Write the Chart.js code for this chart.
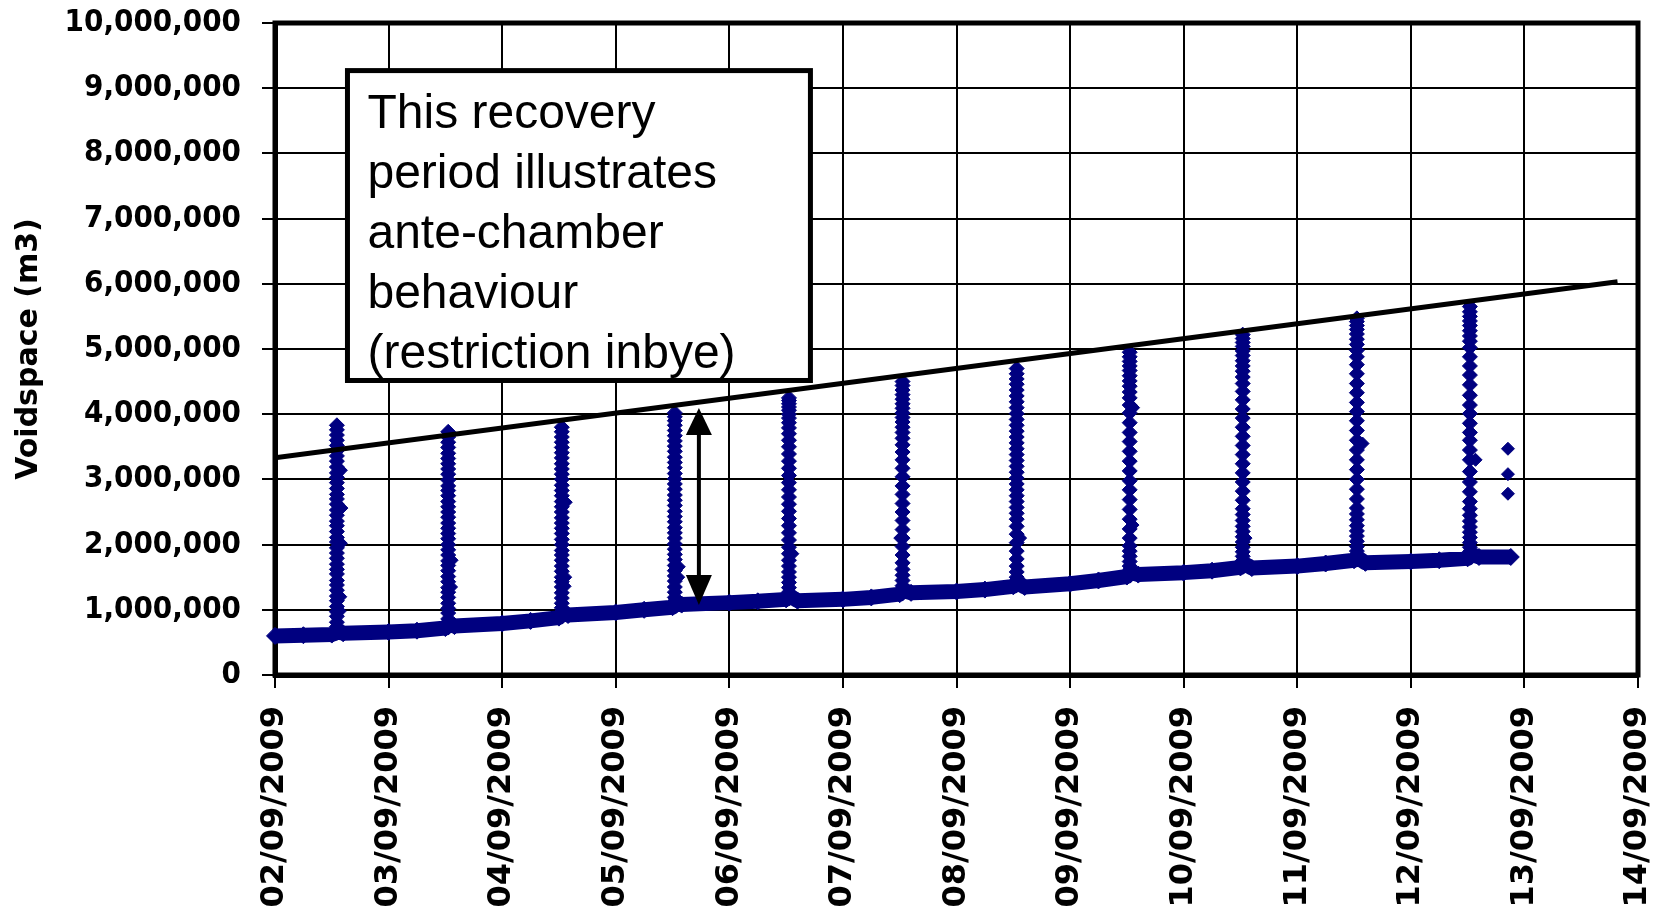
<!DOCTYPE html>
<html>
<head>
<meta charset="utf-8">
<script src="https://cdn.jsdelivr.net/npm/chart.js@4.4.0/dist/chart.umd.min.js"></script>
<style>
  html, body { margin: 0; padding: 0; background: #fff; }
  #wrap { width: 1661px; height: 916px; }
</style>
</head>
<body>
<div id="wrap"><canvas id="myChart" width="1661" height="916"></canvas></div>
<script>
// etiquetas de los ejes
const xTickLabels = ["02/09/2009", "03/09/2009", "04/09/2009", "05/09/2009", "06/09/2009", "07/09/2009",
  "08/09/2009", "09/09/2009", "10/09/2009", "11/09/2009", "12/09/2009", "13/09/2009", "14/09/2009"];
const yTickLabels = ["0", "1,000,000", "2,000,000", "3,000,000", "4,000,000", "5,000,000",
  "6,000,000", "7,000,000", "8,000,000", "9,000,000", "10,000,000"];

// linea base (dia de septiembre, millones de m3)
const baseDays = [2.0, 2.25, 2.5, 2.545, 2.6, 3.0, 3.25, 3.5, 3.525, 3.58, 4.0, 4.25, 4.5, 4.525, 4.58,
  5.0, 5.25, 5.5, 5.52, 5.58, 6.0, 6.25, 6.5, 6.525, 6.6, 7.0, 7.25, 7.5, 7.525, 7.6, 8.0, 8.25, 8.5, 8.53, 8.6,
  9.0, 9.25, 9.5, 9.525, 9.6, 10.0, 10.25, 10.5, 10.52, 10.6, 11.0, 11.25, 11.5, 11.525, 11.6,
  12.0, 12.25, 12.5, 12.52, 12.6, 12.88];
const baseVoid = [0.6, 0.61, 0.62, 0.66, 0.64, 0.66, 0.68, 0.72, 0.78, 0.75, 0.79, 0.83, 0.88, 0.94, 0.92,
  0.96, 1.0, 1.04, 1.1, 1.08, 1.11, 1.13, 1.16, 1.22, 1.14, 1.16, 1.19, 1.24, 1.3, 1.26, 1.28, 1.31, 1.36, 1.42, 1.35,
  1.4, 1.45, 1.51, 1.58, 1.54, 1.57, 1.6, 1.65, 1.72, 1.64, 1.67, 1.71, 1.76, 1.81, 1.72,
  1.74, 1.76, 1.79, 1.86, 1.81, 1.81];

// picos de recuperacion (un dia por pico)
const spikeDays = [2.545, 3.525, 4.525, 5.52, 6.525, 7.525, 8.53, 9.525, 10.52, 11.525, 12.52];
const spike1 = [0.68, 0.74, 0.81, 0.9, 0.97, 1.05, 1.14, 1.21, 1.3, 1.38, 1.45, 1.55, 1.62, 1.7, 1.79, 1.87, 1.95,
  2.04, 2.11, 2.2, 2.29, 2.36, 2.45, 2.53, 2.62, 2.7, 2.77, 2.86, 2.95, 3.03, 3.1, 3.19, 3.28, 3.36, 3.44, 3.52, 3.6,
  3.68, 3.76, 3.83];
const spike2 = [0.8, 0.86, 0.95, 1.02, 1.1, 1.19, 1.27, 1.34, 1.43, 1.51, 1.6, 1.68, 1.75, 1.84, 1.92, 2.0, 2.09,
  2.17, 2.25, 2.33, 2.42, 2.5, 2.58, 2.66, 2.75, 2.83, 2.9, 2.99, 3.08, 3.16, 3.24, 3.32, 3.4, 3.49, 3.57, 3.65, 3.73];
const spike3 = [0.96, 1.03, 1.1, 1.18, 1.26, 1.35, 1.43, 1.5, 1.59, 1.67, 1.76, 1.84, 1.91, 2.0, 2.08, 2.17, 2.25,
  2.33, 2.41, 2.5, 2.58, 2.66, 2.75, 2.83, 2.91, 3.0, 3.08, 3.16, 3.24, 3.33, 3.41, 3.49, 3.57, 3.65, 3.73, 3.8];
const spike4 = [1.12, 1.19, 1.27, 1.35, 1.44, 1.52, 1.6, 1.68, 1.77, 1.85, 1.93, 2.01, 2.1, 2.18, 2.26, 2.35, 2.43,
  2.51, 2.6, 2.68, 2.76, 2.85, 2.93, 3.01, 3.09, 3.18, 3.26, 3.34, 3.43, 3.51, 3.59, 3.67, 3.75, 3.83, 3.9, 3.96, 4.02];
const spike5 = [1.2, 1.27, 1.34, 1.42, 1.5, 1.58, 1.67, 1.76, 1.86, 1.96, 2.07, 2.18, 2.29, 2.4, 2.51, 2.62, 2.73,
  2.84, 2.95, 3.06, 3.17, 3.28, 3.39, 3.5, 3.6, 3.7, 3.79, 3.87, 3.94, 4.0, 4.06, 4.11, 4.16, 4.21, 4.25];
const spike6 = [1.3, 1.37, 1.45, 1.53, 1.62, 1.72, 1.84, 1.97, 2.1, 2.23, 2.37, 2.5, 2.63, 2.77, 2.9, 3.04, 3.17,
  3.3, 3.42, 3.53, 3.63, 3.72, 3.8, 3.88, 3.95, 4.02, 4.09, 4.16, 4.23, 4.3, 4.37, 4.44, 4.5];
const spike7 = [1.42, 1.5, 1.58, 1.67, 1.78, 1.9, 2.03, 2.16, 2.28, 2.39, 2.48, 2.57, 2.66, 2.75, 2.84, 2.93, 3.02,
  3.11, 3.2, 3.29, 3.38, 3.47, 3.56, 3.65, 3.74, 3.83, 3.92, 4.01, 4.1, 4.19, 4.28, 4.37, 4.46, 4.54, 4.62, 4.7];
const spike8 = [1.6, 1.67, 1.74, 1.82, 1.9, 1.98, 2.1, 2.24, 2.39, 2.54, 2.69, 2.84, 2.98, 3.13, 3.28, 3.43, 3.58,
  3.72, 3.87, 4.02, 4.14, 4.25, 4.34, 4.43, 4.51, 4.59, 4.67, 4.74, 4.81, 4.88, 4.95];
const spike9 = [1.75, 1.82, 1.89, 1.96, 2.04, 2.12, 2.2, 2.28, 2.37, 2.46, 2.55, 2.68, 2.82, 2.96, 3.1, 3.24, 3.38,
  3.52, 3.66, 3.8, 3.94, 4.08, 4.22, 4.35, 4.47, 4.57, 4.66, 4.74, 4.82, 4.9, 4.97, 5.04, 5.1, 5.16, 5.22];
const spike10 = [1.84, 1.9, 1.97, 2.05, 2.13, 2.21, 2.29, 2.38, 2.47, 2.56, 2.7, 2.85, 3.0, 3.15, 3.3, 3.45, 3.6,
  3.75, 3.9, 4.04, 4.18, 4.33, 4.47, 4.62, 4.76, 4.88, 4.98, 5.07, 5.15, 5.23, 5.3, 5.36, 5.42, 5.47];
const spike11 = [1.89, 1.96, 2.03, 2.11, 2.19, 2.27, 2.36, 2.45, 2.55, 2.66, 2.81, 2.96, 3.12, 3.3, 3.45, 3.6, 3.72,
  3.86, 4.01, 4.14, 4.29, 4.45, 4.6, 4.74, 4.88, 5.02, 5.12, 5.2, 5.28, 5.36, 5.43, 5.5, 5.57, 5.65];

// puntos sueltos fuera de la columna
const strayDays = [2.58, 2.585, 2.58, 2.575, 2.57, 3.555, 3.55, 4.56, 4.555, 4.55, 5.555, 5.55, 6.555, 7.505,
  8.56, 9.555, 9.55, 10.545, 11.575, 12.57, 12.855, 12.855, 12.855];
const strayVoid = [3.14, 2.56, 2.02, 1.2, 0.98, 1.76, 1.35, 2.65, 1.5, 1.36, 1.66, 1.5, 1.86, 2.1,
  2.1, 4.1, 2.3, 2.1, 3.55, 3.3, 3.47, 3.08, 2.78];

// linea de tendencia
const trendDays = [2.0, 13.82];
const trendVoid = [3.33, 6.03];

// cuadro de texto y flecha
const noteLines = ["This recovery", "period illustrates", "ante-chamber", "behaviour", "(restriction inbye)"];
const noteBox = { left: 2.638, right: 6.714, top: 9.27, bottom: 4.517 };
const arrowDay = 5.732;
const arrowTop = 4.095;
const arrowBottom = 1.074;

const spikes = [spike1, spike2, spike3, spike4, spike5, spike6, spike7, spike8, spike9, spike10, spike11];
const M = 1000000;

function puntos(dias, valores) {
  return dias.map((d, i) => ({ x: d, y: valores[i] * M }));
}

let picos = [];
spikes.forEach((vals, i) => {
  vals.forEach((v) => picos.push({ x: spikeDays[i], y: v * M }));
});

const navy = "#000080";
const narrowBold = "'DejaVu Sans Condensed', 'DejaVu Sans', sans-serif";
const wideBold = "'DejaVu Sans', Verdana, sans-serif";

const extras = {
  id: "extras",
  beforeDatasetsDraw(chart) {
    const { ctx, chartArea: a } = chart;
    ctx.save();
    ctx.strokeStyle = "#000";
    ctx.lineWidth = 5;
    ctx.strokeRect(a.left, a.top, a.right - a.left, a.bottom - a.top);
    ctx.restore();
  },
  afterDatasetsDraw(chart) {
    const { ctx, scales: { x, y } } = chart;
    ctx.save();
    ctx.strokeStyle = "#000";
    ctx.fillStyle = "#000";

    // flecha doble
    const ax = x.getPixelForValue(arrowDay);
    const t = y.getPixelForValue(arrowTop * M);
    const b = y.getPixelForValue(arrowBottom * M);
    ctx.lineWidth = 4;
    ctx.beginPath();
    ctx.moveTo(ax, t + 20);
    ctx.lineTo(ax, b - 20);
    ctx.stroke();
    ctx.beginPath();
    ctx.moveTo(ax, t);
    ctx.lineTo(ax - 13, t + 27);
    ctx.lineTo(ax + 13, t + 27);
    ctx.closePath();
    ctx.fill();
    ctx.beginPath();
    ctx.moveTo(ax, b);
    ctx.lineTo(ax - 13, b - 30);
    ctx.lineTo(ax + 13, b - 30);
    ctx.closePath();
    ctx.fill();

    // cuadro de texto
    const l = x.getPixelForValue(noteBox.left);
    const r = x.getPixelForValue(noteBox.right);
    const bt = y.getPixelForValue(noteBox.top * M);
    const bb = y.getPixelForValue(noteBox.bottom * M);
    ctx.fillStyle = "#fff";
    ctx.fillRect(l, bt, r - l, bb - bt);
    ctx.lineWidth = 5;
    ctx.strokeRect(l, bt, r - l, bb - bt);
    ctx.fillStyle = "#000";
    ctx.font = "48px 'Liberation Sans', Arial, sans-serif";
    ctx.textBaseline = "alphabetic";
    ctx.textAlign = "left";
    noteLines.forEach((linea, i) => {
      ctx.fillText(linea, l + 20, bt + 57 + i * 60);
    });
    ctx.restore();
  }
};

const grafica = document.getElementById("myChart").getContext("2d");

const myChart = new Chart(grafica, {
  type: "scatter",
  data: {
    datasets: [
      {
        label: "Trend",
        data: puntos(trendDays, trendVoid),
        showLine: true,
        borderColor: "#000",
        borderWidth: 5,
        pointRadius: 0
      },
      {
        label: "Voidspace",
        data: picos,
        pointStyle: "rectRot",
        pointRadius: 7.5,
        backgroundColor: navy,
        borderColor: navy,
        borderWidth: 1
      },
      {
        label: "Stray",
        data: puntos(strayDays, strayVoid),
        pointStyle: "rectRot",
        pointRadius: 6.5,
        backgroundColor: navy,
        borderColor: navy,
        borderWidth: 1
      },
      {
        label: "Base",
        data: puntos(baseDays, baseVoid),
        showLine: true,
        borderColor: navy,
        borderWidth: 15,
        borderJoinStyle: "round",
        pointStyle: "rectRot",
        pointRadius: 8.5,
        backgroundColor: navy,
        pointBorderColor: navy,
        pointBorderWidth: 1,
        clip: 12
      }
    ]
  },
  options: {
    responsive: false,
    animation: false,
    devicePixelRatio: 1,
    layout: { padding: { top: 23, right: 23, left: 0, bottom: 0 } },
    plugins: {
      legend: { display: false },
      tooltip: { enabled: false }
    },
    scales: {
      x: {
        type: "linear",
        min: 2,
        max: 14,
        afterFit(s) {
          s.height = 241;
          s.paddingLeft = 0;
          s.paddingRight = 0;
        },
        ticks: {
          stepSize: 1,
          autoSkip: false,
          minRotation: 90,
          maxRotation: 90,
          padding: 18,
          color: "#000",
          font: { family: wideBold, size: 32, weight: "bold" },
          callback: (v, i) => xTickLabels[i]
        },
        grid: { color: "#000", lineWidth: 2, tickLength: 13, tickWidth: 2, tickColor: "#000" },
        border: { color: "#000", width: 5 }
      },
      y: {
        min: 0,
        max: 10 * M,
        afterFit(s) {
          s.width = 275;
          s.paddingTop = 0;
          s.paddingBottom = 0;
        },
        ticks: {
          stepSize: M,
          padding: 21,
          color: "#000",
          font: { family: narrowBold, size: 31, weight: "bold" },
          callback: (v, i) => yTickLabels[i]
        },
        title: {
          display: true,
          text: "Voidspace (m3)",
          color: "#000",
          font: { family: wideBold, size: 30, weight: "bold" },
          padding: { top: 11, bottom: 0 }
        },
        grid: { color: "#000", lineWidth: 2, tickLength: 13, tickWidth: 2, tickColor: "#000" },
        border: { color: "#000", width: 5 }
      }
    }
  },
  plugins: [extras]
});
</script>
</body>
</html>
